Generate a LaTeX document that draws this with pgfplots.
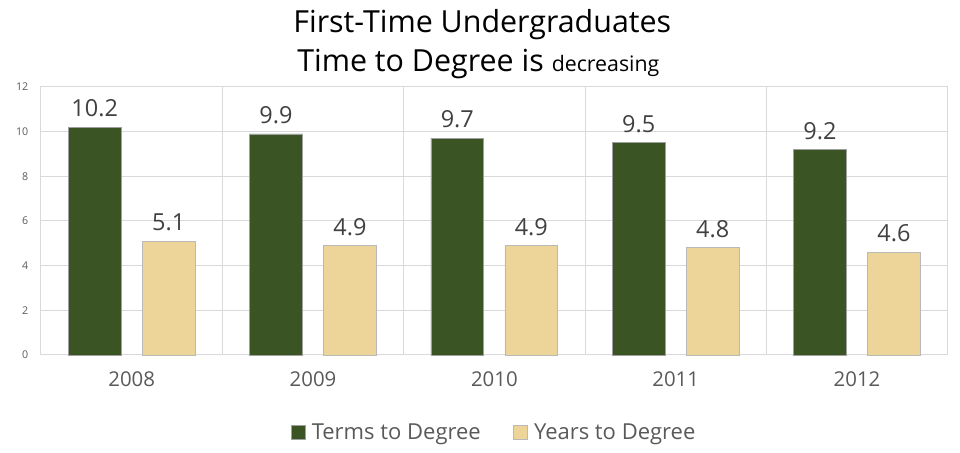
\documentclass[border=0pt]{standalone}
\usepackage{pgfplots}
\pgfplotsset{compat=1.18}
\usepackage{fontspec}
\setmainfont{Open Sans}
\definecolor{dgreen}{HTML}{3A5424}
\definecolor{tan}{HTML}{EDD59A}
\definecolor{gridc}{HTML}{D9D9D9}
\definecolor{txt}{HTML}{595959}
\definecolor{lbl}{HTML}{404040}
\begin{document}
\begin{tikzpicture}[x=1pt,y=1pt]
\useasboundingbox (-30.75,-73.5) rectangle (689.25,266.25);
\begin{axis}[
  at={(0,0)}, anchor=south west,
  scale only axis, width=680pt, height=201pt,
  xmin=-0.5, xmax=4.5, ymin=0, ymax=12,
  ybar, bar width=0.292,
  xtick={0,1,2,3,4}, xticklabels={2008,2009,2010,2011,2012},
  minor xtick={-0.5,0.5,1.5,2.5,3.5,4.5},
  xminorgrids, ymajorgrids,
  minor grid style={gridc, line width=0.75pt},
  major grid style={gridc, line width=0.75pt},
  ytick={0,2,...,12},
  axis line style={gridc, line width=0.75pt},
  major tick length=0pt, minor tick length=0pt,
  x tick label style={font=\fontsize{15.3}{18}\selectfont, text=txt, yshift=-9pt},
  y tick label style={font=\fontsize{8}{10}\selectfont, text=txt},
  yticklabel style={xshift=-6pt},
  /pgf/number format/assume math mode=true,
  nodes near coords={\pgfmathprintnumber[fixed,fixed zerofill,precision=1]{\pgfplotspointmeta}},
  nodes near coords style={font=\fontsize{17.6}{20}\selectfont, text=lbl, anchor=south, yshift=4pt},
  legend columns=2,
  legend style={at={(0.5,-58.5pt)}, anchor=center, draw=none, fill=none,
    font=\fontsize{16.5}{19}\selectfont, text=txt,
    /tikz/every odd column/.append style={column sep=3pt},
    /tikz/every even column/.append style={column sep=22pt}},
  legend image code/.code={\draw[#1, line width=0.4pt] (0pt,-5pt) rectangle (10.5pt,5.5pt);},
  clip=false,
]
\addplot[fill=dgreen, draw=gray!75, line width=0.5pt, bar shift=-0.204] coordinates {(0,10.2) (1,9.9) (2,9.7) (3,9.5) (4,9.2)};
\addplot[fill=tan, draw=gray!55, line width=0.5pt, bar shift=0.204] coordinates {(0,5.1) (1,4.9) (2,4.9) (3,4.8) (4,4.6)};
\legend{Terms to Degree, Years to Degree}
\end{axis}
\node[anchor=base, font=\fontsize{22.8}{26}\selectfont] at (331,241.5) {First-Time Undergraduates};
\node[anchor=base, font=\fontsize{22.8}{26}\selectfont] at (328,212.25) {Time to Degree is {\fontsize{16}{18}\selectfont decreasing}};
\end{tikzpicture}
\end{document}
